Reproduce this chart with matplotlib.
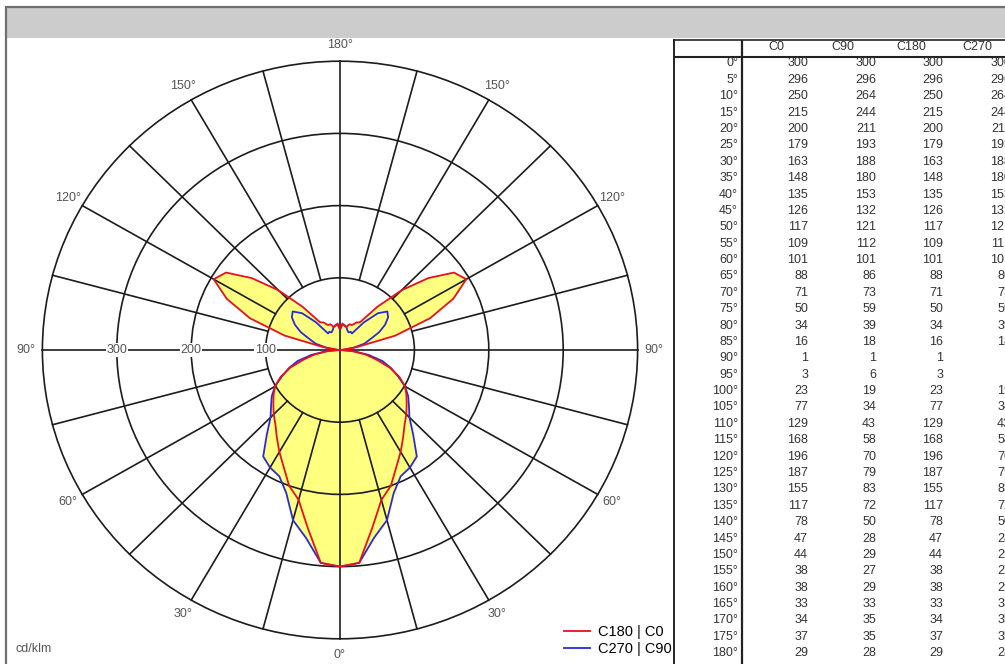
import numpy as np
import matplotlib.pyplot as plt
from matplotlib.patches import Rectangle, Circle

plt.rcParams['font.family'] = ['Liberation Sans', 'DejaVu Sans']

# Luminous intensity per C-plane, cd/klm, gamma 0..180 deg in 5 deg steps
gammas = list(range(0, 181, 5))
c0 = [300, 296, 250, 215, 200, 179, 163, 148, 135, 126, 117, 109, 101, 88, 71, 50,
      34, 16, 1, 3, 23, 77, 129, 168, 196, 187, 155, 117, 78, 47, 44, 38, 38, 33,
      34, 37, 29]
c90 = [300, 296, 264, 244, 211, 193, 188, 180, 153, 132, 121, 112, 101, 86, 73, 59,
       39, 18, 1, 6, 19, 34, 43, 58, 70, 79, 83, 72, 50, 28, 29, 27, 29, 33, 35,
       35, 28]
c180 = [300, 296, 250, 215, 200, 179, 163, 148, 135, 126, 117, 109, 101, 88, 71, 50,
        34, 16, 1, 3, 23, 77, 129, 168, 196, 187, 155, 117, 78, 47, 44, 38, 38, 33,
        34, 37, 29]
c270 = [300, 296, 264, 244, 211, 193, 188, 180, 153, 132, 121, 112, 101, 86, 73, 59,
        39, 18, 1, 6, 19, 34, 43, 58, 70, 79, 83, 72, 50, 28, 29, 27, 29, 33, 35,
        35, 28]
planes = ['C0', 'C90', 'C180', 'C270']
rings = [100, 200, 300, 400]
ring_labels = ['100', '200', '300']
angle_labels = [0, 30, 60, 90, 120, 150, 180]

W, H = 1005, 664
GRID = '#1c1c1c'
TXT = '#555555'


def outline(right, left):
    """Closed curve: right-hand plane for x>0, opposite plane mirrored to x<0"""
    g = np.radians(gammas)
    r1 = np.array(right, dtype=float)
    r2 = np.array(left, dtype=float)[::-1]
    x = np.concatenate([r1*np.sin(g), -r2*np.sin(g[::-1])])
    y = np.concatenate([-r1*np.cos(g), -r2*np.cos(g[::-1])])
    return x, y


fig = plt.figure(figsize=(W/100, H/100), dpi=100)

# frame and grey title strip
fig.patches.append(Rectangle((6/W, -0.05), 1.1, (H-7)/H + 0.05,
                             transform=fig.transFigure, facecolor='none',
                             edgecolor='#707070', lw=1.6, zorder=3))
fig.patches.append(Rectangle((7/W, (H-38)/H), 1.0, 30/H,
                             transform=fig.transFigure, facecolor='#cccccc',
                             edgecolor='none', zorder=1))

# polar diagram drawn on cartesian axes, units cd/klm
cx, cy = 340, 350
sx, sy = 0.744, 0.722          # pixels per cd
lim = 420
ax = fig.add_axes([(cx - lim*sx)/W, (H - cy - lim*sy)/H, 2*lim*sx/W, 2*lim*sy/H])
ax.set_xlim(-lim, lim)
ax.set_ylim(-lim, lim)
ax.axis('off')

xr, yr = outline(c0, c180)
xb, yb = outline(c90, c270)
ax.fill(xb, yb, color='#ffff80', zorder=1, lw=0)
ax.fill(xr, yr, color='#ffff80', zorder=1, lw=0)

for r in rings:
    ax.add_patch(Circle((0, 0), r, fill=False, ec=GRID, lw=1.2, zorder=2))
for a in range(0, 360, 15):
    t = np.radians(a)
    r0 = 0 if a % 90 == 0 else rings[0]
    ax.plot([r0*np.sin(t), rings[-1]*np.sin(t)], [r0*np.cos(t), rings[-1]*np.cos(t)],
            color=GRID, lw=1.2, zorder=2)

for lab in ring_labels:
    ax.text(-int(lab), 0, lab, ha='center', va='center', fontsize=9, color=TXT,
            zorder=3, bbox=dict(facecolor='white', edgecolor='none', pad=0.5))

for a in angle_labels:
    t = np.radians(a)
    for side in (1, -1):
        if side == -1 and a in (0, 180):
            continue
        ax.text(side*422*np.sin(t), -422*np.cos(t), '%d°' % a, ha='center',
                va='center', fontsize=9, color=TXT)

lr, = ax.plot(xr, yr, color='#e8101c', lw=1.3, zorder=5)
lb, = ax.plot(xb, yb, color='#2a2ad8', lw=1.3, zorder=4)

fig.text(15/W, (H-649)/H, 'cd/klm', fontsize=9, color=TXT, va='center')

fig.legend([lr, lb], ['C180 | C0', 'C270 | C90'], loc='lower left',
           bbox_to_anchor=(564/W, (H-656)/H), bbox_transform=fig.transFigure,
           frameon=False, fontsize=10.5, handlelength=1.8, handletextpad=0.5,
           labelspacing=0.2, borderpad=0, borderaxespad=0)

# intensity table, axes in pixel units
tx0, ty0 = 674, 40
tab = fig.add_axes([tx0/W, 0, (W - tx0)/W, (H - ty0)/H])
tab.set_xlim(tx0, W)
tab.set_ylim(H, ty0)
tab.axis('off')
tab.add_patch(Rectangle((tx0, ty0), 400, 700, facecolor='white',
                        edgecolor='none', zorder=0))
tab.plot([tx0, tx0], [ty0, H], color='#222222', lw=1.4, clip_on=False)
tab.plot([tx0, W], [ty0, ty0], color='#222222', lw=1.2, clip_on=False)
tab.plot([tx0, W], [56.5, 56.5], color='#222222', lw=1.5)
tab.plot([742, 742], [ty0, H], color='#222222', lw=1.6)

col_right = [808, 876, 943, 1011]
col_mid = [776, 843, 911, 977]
columns = [c0, c90, c180, c270]
for j, name in enumerate(planes):
    tab.text(col_mid[j], 47, name, ha='center', va='center', fontsize=9,
             color='#333333')
row0, dy = 63.5, 16.38
for i, g in enumerate(gammas):
    y = row0 + i*dy
    tab.text(738, y, '%d°' % g, ha='right', va='center', fontsize=9, color='#333333')
    for j, col in enumerate(columns):
        tab.text(col_right[j], y, str(col[i]), ha='right', va='center',
                 fontsize=9, color='#333333', clip_on=False)

plt.savefig('out.png', dpi=100)
